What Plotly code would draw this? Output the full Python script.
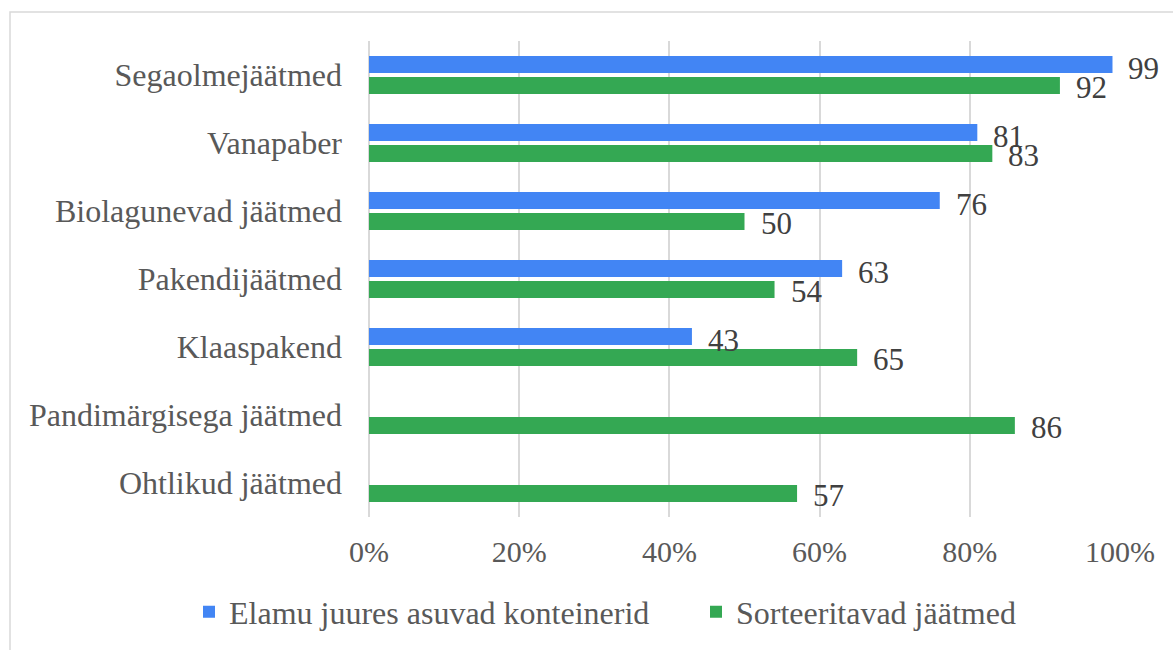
import plotly.graph_objects as go

categories = [
    "Segaolmejäätmed",
    "Vanapaber",
    "Biolagunevad jäätmed",
    "Pakendijäätmed",
    "Klaaspakend",
    "Pandimärgisega jäätmed",
    "Ohtlikud jäätmed",
]
series_names = ["Elamu juures asuvad konteinerid", "Sorteeritavad jäätmed"]
elamu = [99, 81, 76, 63, 43, None, None]
sorteeritavad = [92, 83, 50, 54, 65, 86, 57]
x_ticks = [0, 20, 40, 60, 80, 100]

BLUE = "#4285F4"
GREEN = "#34A853"
FONT = "Times New Roman, Liberation Serif, serif"

# plot area in pixels
L, R, T, B = 369, 53, 41, 133
W, H = 1173, 650
pw, ph = W - L - R, H - T - B

fig = go.Figure()
fig.add_trace(go.Bar(y=categories, x=elamu, name=series_names[0], orientation="h",
                     marker=dict(color=BLUE, line=dict(width=0)), legend="legend"))
fig.add_trace(go.Bar(y=categories, x=sorteeritavad, name=series_names[1], orientation="h",
                     marker=dict(color=GREEN, line=dict(width=0)), legend="legend2"))

# value labels next to the bar ends
for vals, ys in ((elamu, 7), (sorteeritavad, -12)):
    for c, v in zip(categories, vals):
        if v is None:
            continue
        fig.add_annotation(x=v, y=c, text=str(v), showarrow=False, xanchor="left",
                           xshift=14, yshift=ys,
                           font=dict(family=FONT, size=31, color="#404040"))

# chart frame
def px_x(p):
    return (p - L) / pw

def px_y(p):
    return (H - B - p) / ph

fig.add_shape(type="rect", xref="paper", yref="paper",
              x0=px_x(10), x1=px_x(1185), y0=px_y(12), y1=px_y(670),
              line=dict(color="#D9D9D9", width=1.5), fillcolor="rgba(0,0,0,0)", layer="below")

legend_style = dict(orientation="h", xref="container", yref="container",
                    xanchor="left", y=(H - 612) / H, yanchor="middle",
                    bgcolor="rgba(0,0,0,0)",
                    font=dict(family=FONT, size=32, color="#595959"),
                    itemwidth=30)

fig.update_layout(
    width=W, height=H,
    margin=dict(l=L, r=R, t=T, b=B, pad=0),
    barmode="group", bargap=0.38, bargroupgap=0.2,
    plot_bgcolor="white", paper_bgcolor="white",
    font=dict(family=FONT, color="#595959"),
    legend=dict(legend_style, x=189 / W),
    legend2=dict(legend_style, x=696 / W),
    showlegend=True,
)
fig.update_xaxes(range=[0, 100], tickvals=x_ticks, ticktext=[f"{v}%" for v in x_ticks],
                 showgrid=True, gridcolor="#D9D9D9", gridwidth=1.5,
                 zeroline=True, zerolinecolor="#D9D9D9", zerolinewidth=1.5,
                 showline=False, ticklabelstandoff=14,
                 tickfont=dict(family=FONT, size=30, color="#595959"))
fig.update_yaxes(autorange="reversed", showgrid=False, showline=False,
                 ticklabelstandoff=26,
                 tickfont=dict(family=FONT, size=32, color="#595959"))

fig.write_html("out.html")
